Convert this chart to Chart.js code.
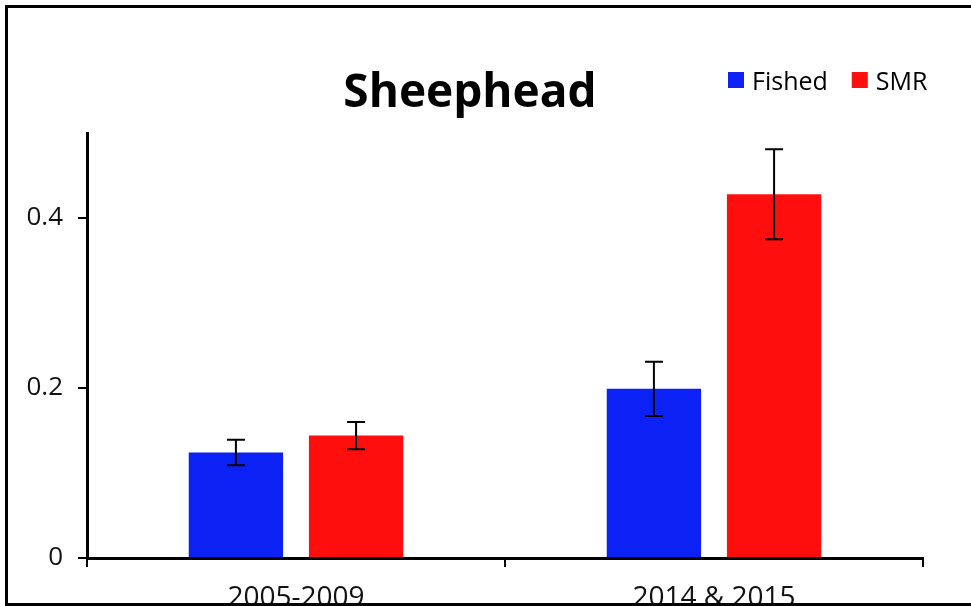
<!DOCTYPE html>
<html>
<head>
<meta charset="utf-8">
<script src="https://cdn.jsdelivr.net/npm/chart.js@4/dist/chart.umd.min.js"></script>
<style>
  html, body { margin: 0; padding: 0; background: #fff; }
  #wrap { position: relative; width: 971px; height: 606px; overflow: hidden; }
  #c { position: absolute; left: 0; top: 0; }
  #frame { position: absolute; left: 5px; top: 5px; width: 966px; height: 601px; box-sizing: border-box;
           border-top: 3px solid #000; border-left: 3px solid #000; border-bottom: 3px solid #000; pointer-events: none; }
</style>
</head>
<body>
<div id="wrap">
  <canvas id="c" width="971" height="606"></canvas>
  <div id="frame"></div>
</div>
<script>
const chartTitle = 'Sheephead';
const categories = ['2005-2009', '2014 & 2015'];
const seriesNames = ['Fished', 'SMR'];
const fishedValues = [0.124, 0.199];
const smrValues = [0.144, 0.428];
const fishedErrors = [0.015, 0.032];
const smrErrors = [0.016, 0.053];
const yTicks = [0, 0.2, 0.4];
const yMax = 0.5;

const BLUE = 'rgb(12,34,245)';
const RED = 'rgb(255,14,14)';
const FONT = '"Open Sans", "Liberation Sans", sans-serif';

const errorBarPlugin = {
  id: 'errorBars',
  afterDatasetsDraw(chart) {
    const ctx = chart.ctx;
    const y = chart.scales.y;
    ctx.save();
    ctx.strokeStyle = '#000';
    ctx.lineWidth = 2;
    chart.data.datasets.forEach((ds, di) => {
      const meta = chart.getDatasetMeta(di);
      meta.data.forEach((bar, i) => {
        const v = ds.data[i], e = ds.errors[i];
        const yt = y.getPixelForValue(v + e);
        const yb = y.getPixelForValue(v - e);
        const half = 9;
        ctx.beginPath();
        ctx.moveTo(bar.x, yt); ctx.lineTo(bar.x, yb);
        ctx.moveTo(bar.x - half, yt); ctx.lineTo(bar.x + half, yt);
        ctx.moveTo(bar.x - half, yb); ctx.lineTo(bar.x + half, yb);
        ctx.stroke();
      });
    });
    ctx.restore();
  }
};

const titleLegendPlugin = {
  id: 'titleLegend',
  afterDraw(chart) {
    const ctx = chart.ctx;
    ctx.save();
    ctx.fillStyle = '#000';
    ctx.font = 'bold 46px ' + FONT;
    ctx.textAlign = 'center';
    ctx.textBaseline = 'alphabetic';
    ctx.fillText(chartTitle, 470, 107);
    // legend
    ctx.font = '25px ' + FONT;
    ctx.textAlign = 'left';
    let x = 728;
    chart.data.datasets.forEach((ds) => {
      ctx.fillStyle = ds.backgroundColor;
      ctx.fillRect(x, 72, 16, 16);
      ctx.fillStyle = '#000';
      ctx.fillText(ds.label, x + 24, 90);
      x += 24 + ctx.measureText(ds.label).width + 24;
    });
    ctx.restore();
  }
};

new Chart(document.getElementById('c'), {
  type: 'bar',
  data: {
    labels: categories,
    datasets: [
      { label: seriesNames[0], data: fishedValues, errors: fishedErrors, backgroundColor: BLUE },
      { label: seriesNames[1], data: smrValues, errors: smrErrors, backgroundColor: RED }
    ]
  },
  options: {
    responsive: false,
    animation: false,
    events: [],
    categoryPercentage: 0.575,
    barPercentage: 0.785,
    layout: { padding: { left: 0, right: 48, top: 133, bottom: 0 } },
    plugins: { legend: { display: false }, title: { display: false }, tooltip: { enabled: false } },
    scales: {
      x: {
        grid: { offset: true, drawOnChartArea: false, drawTicks: true, tickLength: 9, color: '#000', lineWidth: 2 },
        border: { display: true, color: '#000', width: 3 },
        ticks: { color: '#111', font: { family: FONT, size: 28 }, padding: 14, maxRotation: 0 },
        afterFit(s) { s.height = 48; }
      },
      y: {
        min: 0, max: yMax,
        grid: { drawOnChartArea: false, drawTicks: true, tickLength: 9, color: '#000', lineWidth: 2 },
        border: { display: true, color: '#000', width: 3 },
        ticks: { color: '#111', font: { family: FONT, size: 26 }, padding: 15 },
        afterBuildTicks(s) { s.ticks = yTicks.map(v => ({ value: v })); },
        afterFit(s) { s.width = 87; }
      }
    }
  },
  plugins: [errorBarPlugin, titleLegendPlugin]
});
</script>
</body>
</html>
